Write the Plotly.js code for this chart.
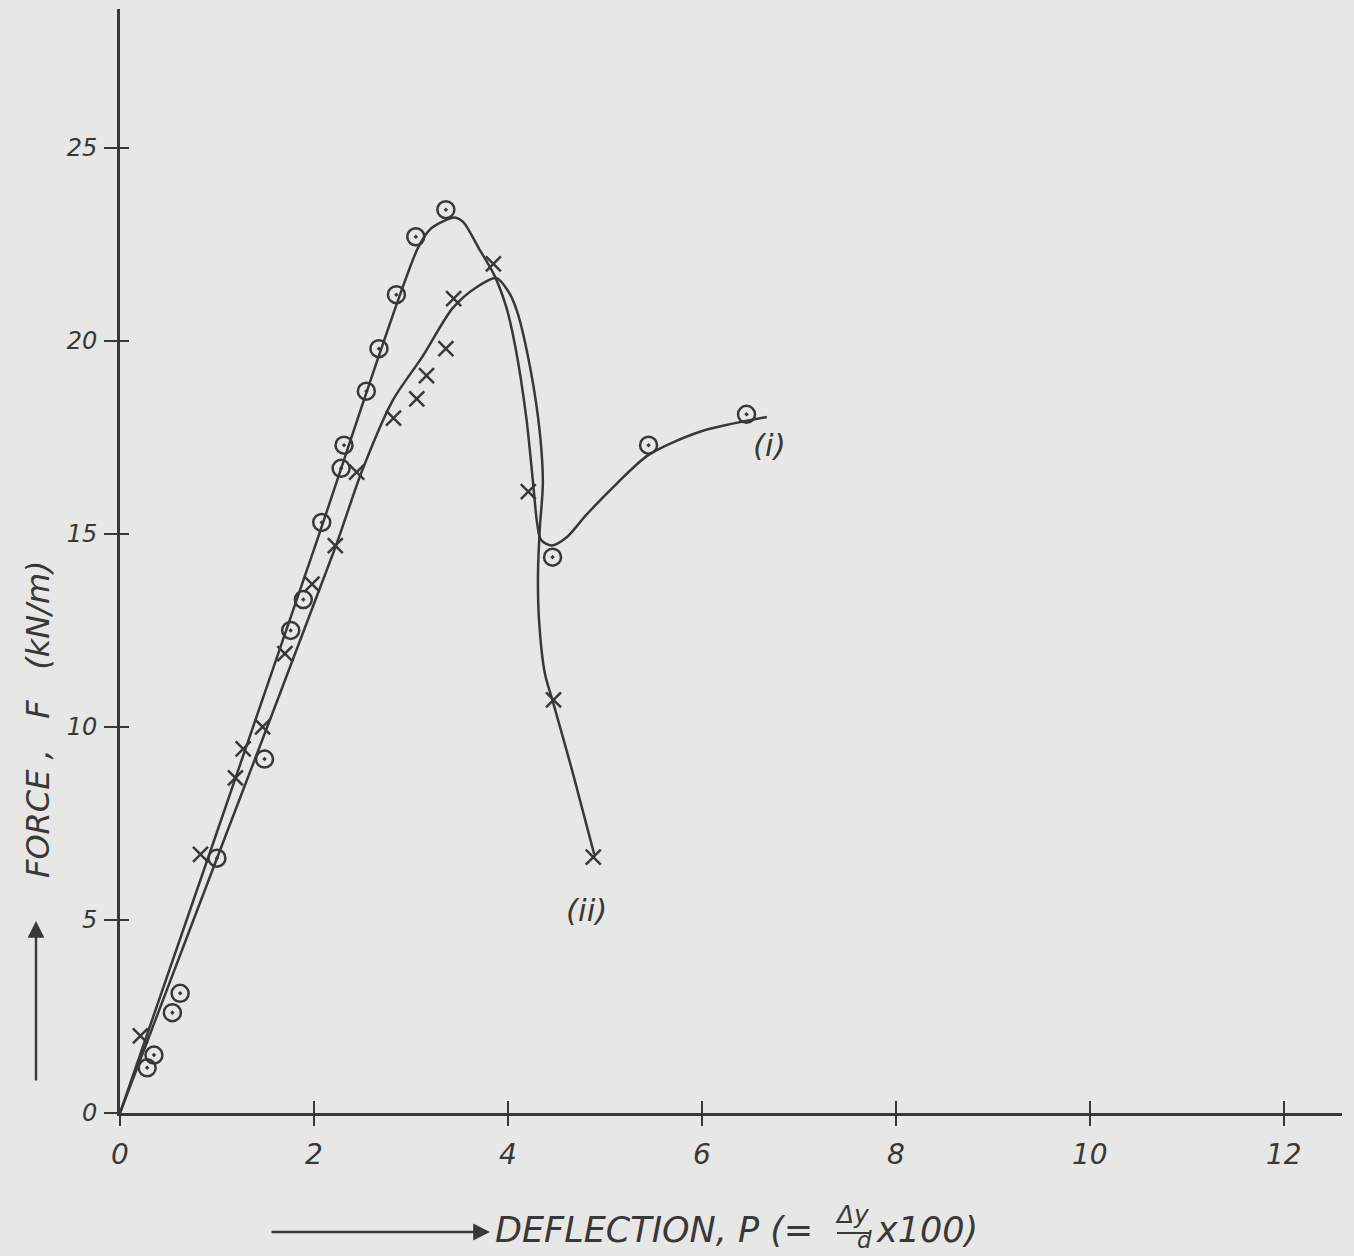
<!DOCTYPE html>
<html>
<head>
<meta charset="utf-8">
<script src="https://cdn.plot.ly/plotly-3.0.1.min.js"></script>
<style>
  html, body { margin: 0; padding: 0; background: #e7e7e5; }
  #chart { width: 1354px; height: 1256px; }
</style>
</head>
<body>
<div id="chart"></div>
<script>
// ---- Data ----
// Curve (i): hand-fitted line through the circle-dot points
const curveIx = [0, 1.0, 2.0, 3.07, 3.2, 3.33, 3.45, 3.54, 3.70, 3.86, 3.98, 4.08, 4.19, 4.26, 4.30, 4.34, 4.45, 4.6, 4.81, 5.12, 5.45, 5.98, 6.67];
const curveIy = [0, 7.28, 14.6, 22.4, 22.9, 23.1, 23.2, 23.08, 22.4, 21.7, 20.9, 19.8, 18.0, 16.3, 15.3, 14.85, 14.7, 14.9, 15.5, 16.3, 17.05, 17.65, 18.03];

// Curve (ii): hand-fitted line through the cross points
const curveIIx = [0, 1.0, 2.22, 2.49, 2.81, 3.12, 3.43, 3.68, 3.88, 4.0, 4.09, 4.23, 4.33, 4.36, 4.33, 4.31, 4.32, 4.38, 4.47, 4.67, 4.89];
const curveIIy = [0, 6.6, 14.65, 16.6, 18.45, 19.6, 20.85, 21.4, 21.63, 21.3, 20.8, 19.3, 17.6, 16.3, 15.2, 14.0, 12.8, 11.4, 10.6, 8.8, 6.7];

// Measured points, series (i) (circle with dot)
const pointsIx = [0.28, 0.35, 0.54, 0.62, 1.0, 1.49, 1.76, 1.89, 2.08, 2.28, 2.31, 2.54, 2.67, 2.85, 3.05, 3.36, 4.46, 5.45, 6.46];
const pointsIy = [1.17, 1.5, 2.6, 3.1, 6.6, 9.17, 12.5, 13.3, 15.3, 16.7, 17.3, 18.7, 19.8, 21.2, 22.7, 23.4, 14.4, 17.3, 18.1];

// Measured points, series (ii) (cross)
const pointsIIx = [0.21, 0.83, 1.19, 1.27, 1.47, 1.70, 1.98, 2.22, 2.44, 2.82, 3.06, 3.16, 3.36, 3.44, 3.85, 4.21, 4.47, 4.88];
const pointsIIy = [2.0, 6.7, 8.68, 9.43, 10.0, 11.9, 13.7, 14.7, 16.6, 18.0, 18.5, 19.1, 19.8, 21.1, 22.0, 16.1, 10.7, 6.63];

// Axis ticks
const xTicks = [0, 2, 4, 6, 8, 10, 12];
const xTickText = ['0', '2', '4', '6', '8', '10', '12'];
const yTicks = [0, 5, 10, 15, 20, 25];
const yTickText = ['0', '5', '10', '15', '20', '25'];

// Curve labels
const labelText = ['(i)', '(ii)'];
const labelX = [6.70, 4.81];
const labelY = [17.3, 5.26];

// ---- Styling / layout ----
const W = 1354, H = 1256;
const M = { l: 120, r: 12, t: 9, b: 143 };
const plotW = W - M.l - M.r, plotH = H - M.t - M.b;
const px = v => (v - M.l) / plotW;          // page px -> paper x
const py = v => (H - M.b - v) / plotH;      // page px -> paper y

const ink = '#383838';
const bg = '#e7e7e5';
const fam = 'DejaVu Sans, Liberation Sans, sans-serif';
const XR = [0, 12.6], YR = [0, 28.6];

const traces = [
  { x: curveIx, y: curveIy, mode: 'lines', line: { color: ink, width: 2.5, shape: 'spline', smoothing: 0.8 }, hoverinfo: 'skip', showlegend: false },
  { x: curveIIx, y: curveIIy, mode: 'lines', line: { color: ink, width: 2.5, shape: 'spline', smoothing: 0.8 }, hoverinfo: 'skip', showlegend: false },
  { x: pointsIx, y: pointsIy, mode: 'markers', marker: { symbol: 'circle-open-dot', size: 17, color: ink, line: { color: ink, width: 2.5 } }, showlegend: false },
  { x: pointsIIx, y: pointsIIy, mode: 'markers', marker: { symbol: 'x-thin-open', size: 15, color: ink, line: { color: ink, width: 2.5 } }, showlegend: false },
  { x: [null], y: [null], xaxis: 'x2', yaxis: 'y2', mode: 'markers', showlegend: false, hoverinfo: 'skip' }
];

const tickFontX = { family: fam, size: 28, color: ink, style: 'italic' };
const tickFontY = { family: fam, size: 24, color: ink, style: 'italic' };
const titleFont = { family: fam, size: 35, color: ink, style: 'italic' };
const yTitleFont = { family: fam, size: 32, color: ink, style: 'italic' };

const annotations = [
  // x-axis title pieces
  { xref: 'paper', yref: 'paper', x: px(490), y: py(1232), ax: -220, ay: 0, text: '', showarrow: true,
    arrowhead: 2, arrowsize: 1.4, arrowwidth: 2.4, arrowcolor: ink },
  { xref: 'paper', yref: 'paper', x: px(493), y: py(1230), xanchor: 'left', yanchor: 'middle',
    text: 'DEFLECTION, P (=', showarrow: false, font: titleFont },
  { xref: 'paper', yref: 'paper', x: px(853), y: py(1214), xanchor: 'center', yanchor: 'middle',
    text: 'Δy', showarrow: false, font: { family: fam, size: 25, color: ink, style: 'italic' } },
  { xref: 'paper', yref: 'paper', x: px(864), y: py(1255), xanchor: 'center', yanchor: 'bottom',
    text: 'd', showarrow: false, font: { family: fam, size: 23, color: ink, style: 'italic' } },
  { xref: 'paper', yref: 'paper', x: px(874), y: py(1230), xanchor: 'left', yanchor: 'middle',
    text: 'x100)', showarrow: false, font: titleFont },
  // y-axis title pieces
  { xref: 'paper', yref: 'paper', x: px(36), y: py(921), ax: 0, ay: 161, text: '', showarrow: true,
    arrowhead: 2, arrowsize: 1.4, arrowwidth: 2.4, arrowcolor: ink },
  { xref: 'paper', yref: 'paper', x: px(38), y: py(719), xanchor: 'center', yanchor: 'middle', textangle: -90,
    text: 'FORCE ,   F   (kN/m)', showarrow: false, font: yTitleFont }
];
for (let i = 0; i < labelText.length; i++) {
  annotations.push({ x: labelX[i], y: labelY[i], xref: 'x', yref: 'y', text: labelText[i], showarrow: false,
    font: { family: fam, size: 31, color: ink, style: 'italic' } });
}

const layout = {
  width: W, height: H,
  margin: M,
  paper_bgcolor: bg, plot_bgcolor: bg,
  showlegend: false,
  xaxis: {
    range: XR, showgrid: false, zeroline: false,
    showline: true, linewidth: 3, linecolor: ink,
    ticks: 'outside', ticklen: 10, tickwidth: 2.4, tickcolor: ink,
    tickvals: xTicks, ticktext: xTickText, tickfont: tickFontX, ticklabelstandoff: 4
  },
  yaxis: {
    range: YR, showgrid: false, zeroline: false,
    showline: true, linewidth: 3, linecolor: ink,
    ticks: 'outside', ticklen: 13, tickwidth: 2.4, tickcolor: ink,
    tickvals: yTicks, ticktext: yTickText, tickfont: tickFontY, ticklabelstandoff: 2
  },
  xaxis2: {
    overlaying: 'x', anchor: 'y2', side: 'bottom', range: XR, showgrid: false, zeroline: false, showline: false,
    ticks: 'inside', ticklen: 12, tickwidth: 2.4, tickcolor: ink,
    tickvals: xTicks.slice(1), showticklabels: false
  },
  yaxis2: {
    overlaying: 'y', anchor: 'x2', side: 'left', range: YR, showgrid: false, zeroline: false, showline: false,
    ticks: 'inside', ticklen: 9, tickwidth: 2.4, tickcolor: ink,
    tickvals: yTicks.slice(1), showticklabels: false
  },
  shapes: [
    { type: 'line', xref: 'paper', yref: 'paper', x0: px(837), x1: px(871), y0: py(1233), y1: py(1233),
      line: { color: ink, width: 2.2 } }
  ],
  annotations: annotations
};

Plotly.newPlot('chart', traces, layout, { displayModeBar: false, staticPlot: true });
</script>
</body>
</html>
